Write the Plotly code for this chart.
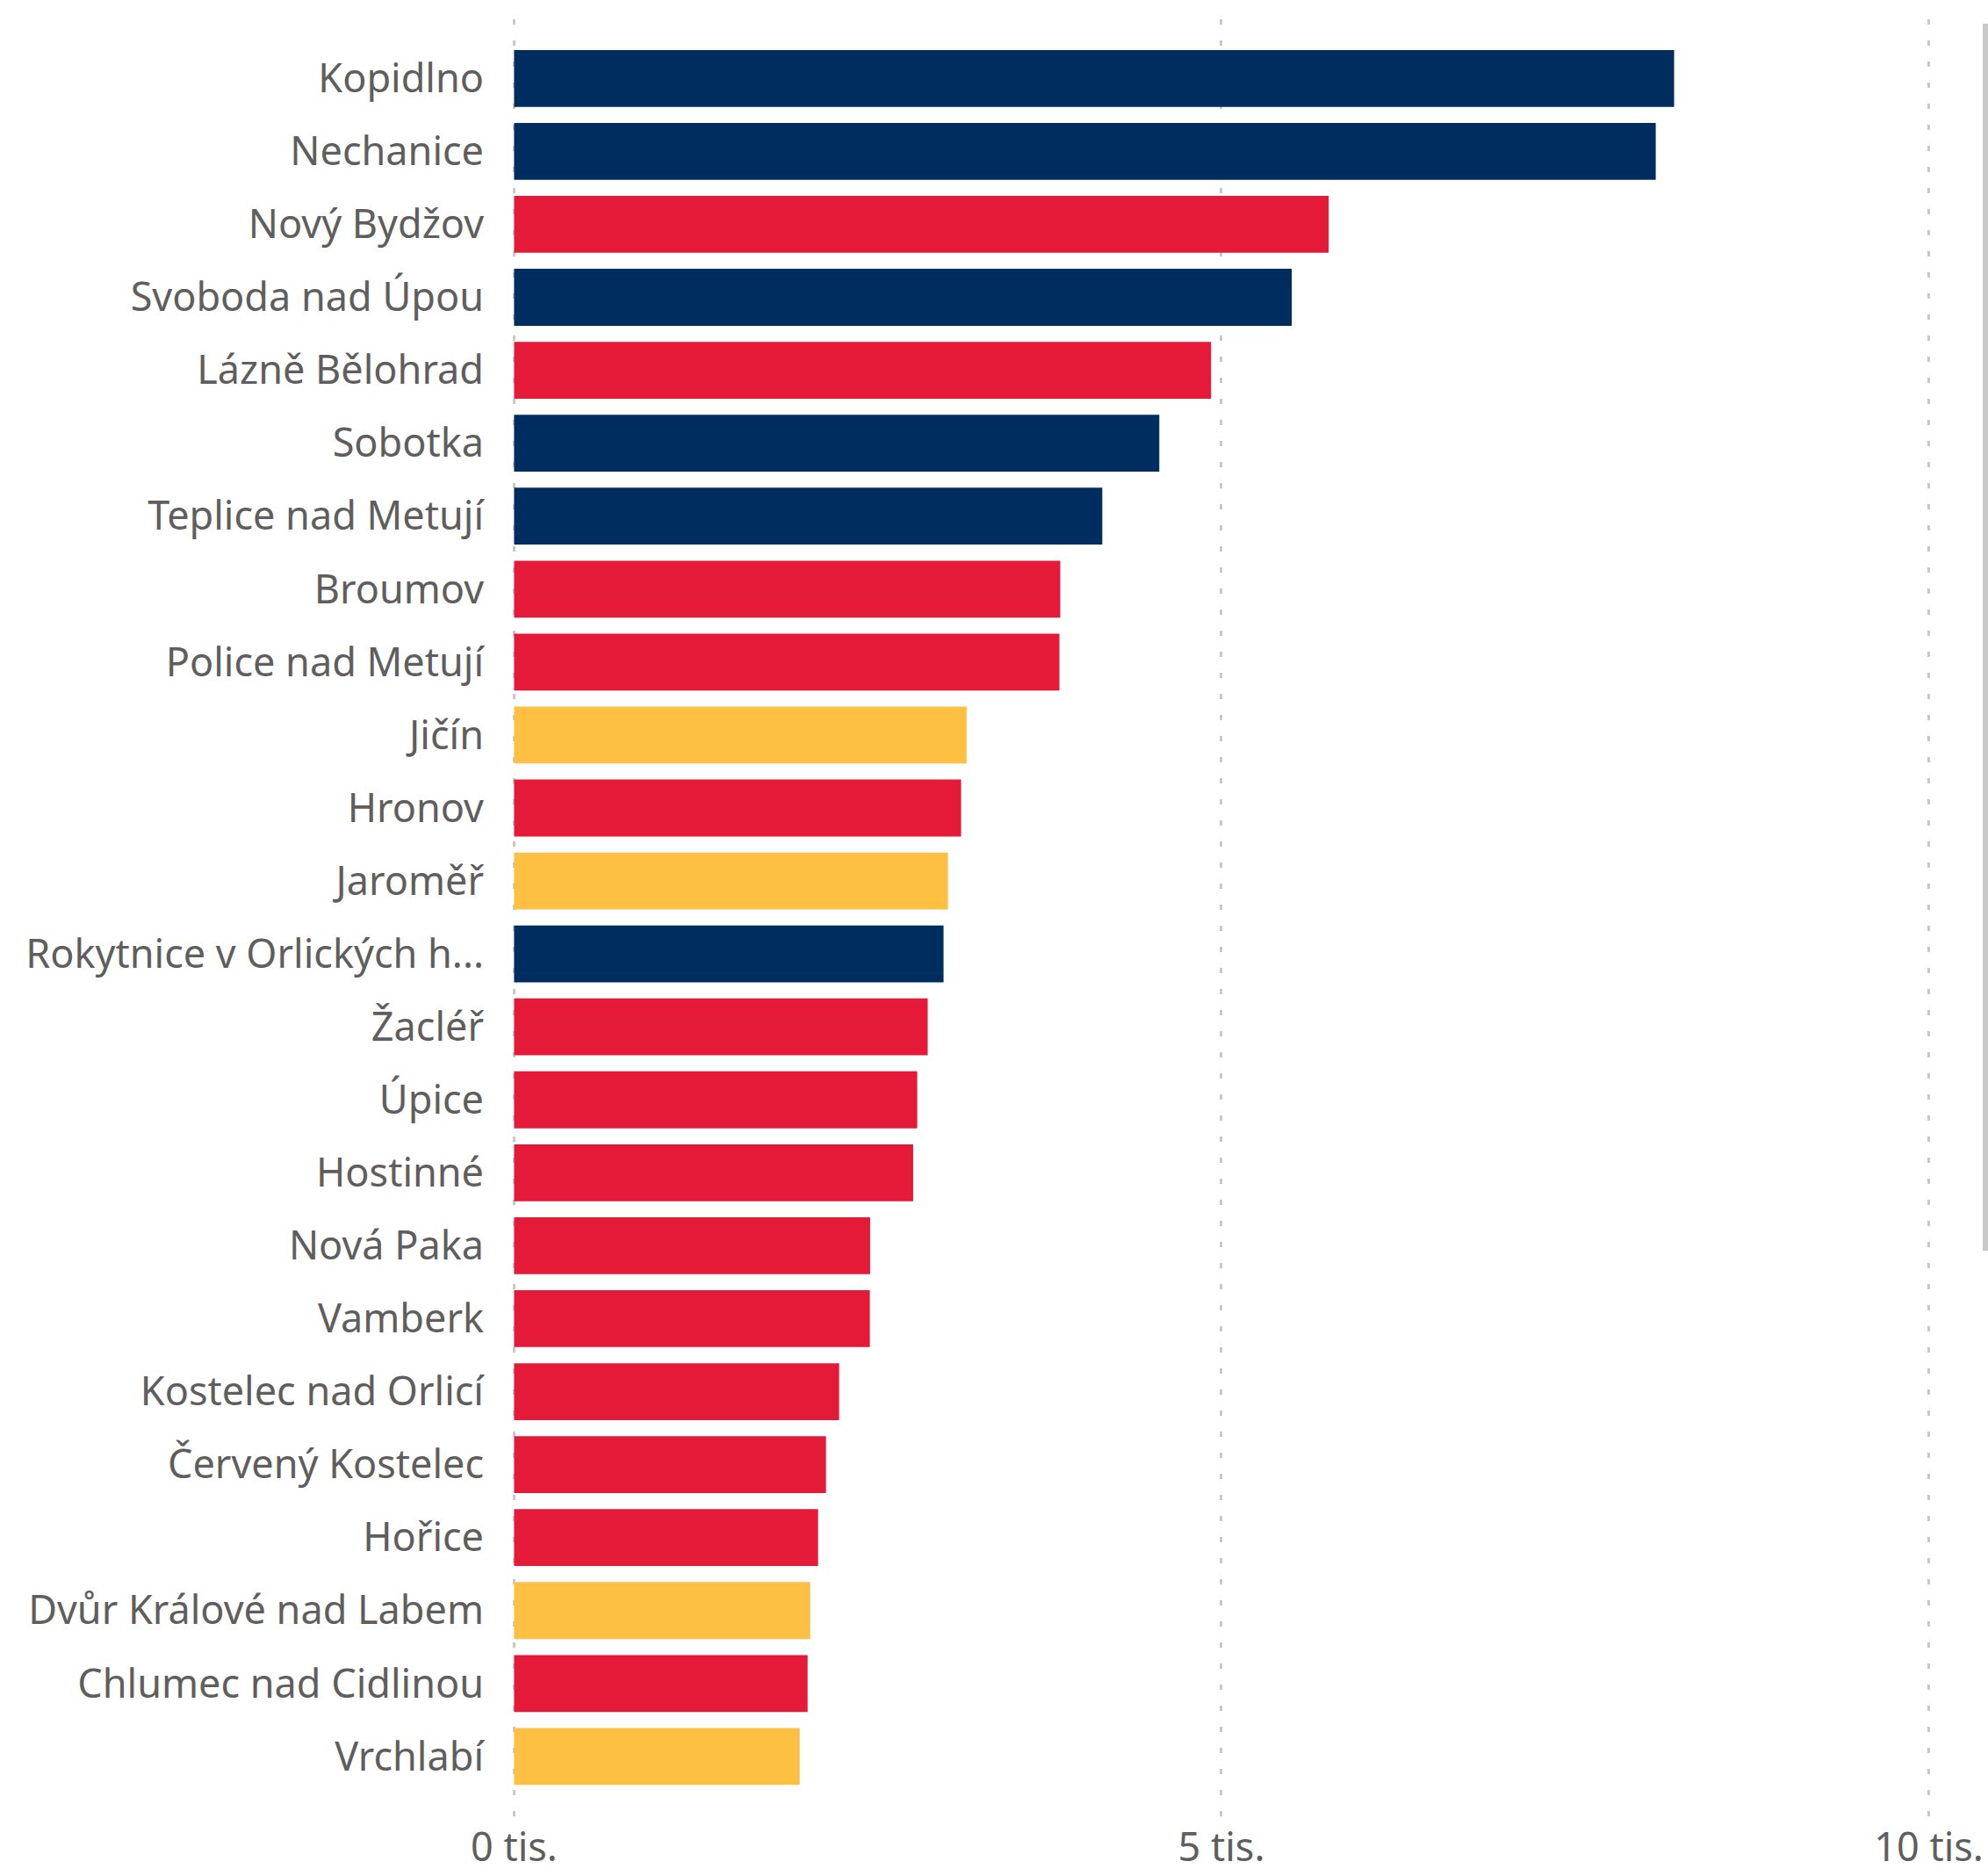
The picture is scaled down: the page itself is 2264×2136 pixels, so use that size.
import plotly.graph_objects as go

cities = [
    "Kopidlno", "Nechanice", "Nový Bydžov", "Svoboda nad Úpou", "Lázně Bělohrad",
    "Sobotka", "Teplice nad Metují", "Broumov", "Police nad Metují", "Jičín",
    "Hronov", "Jaroměř", "Rokytnice v Orlických h...", "Žacléř", "Úpice",
    "Hostinné", "Nová Paka", "Vamberk", "Kostelec nad Orlicí", "Červený Kostelec",
    "Hořice", "Dvůr Králové nad Labem", "Chlumec nad Cidlinou", "Vrchlabí",
]
values = [
    8200, 8070, 5758, 5497, 4927,
    4561, 4158, 3861, 3855, 3199,
    3160, 3067, 3036, 2924, 2850,
    2821, 2517, 2515, 2298, 2205,
    2149, 2094, 2075, 2019,
]
groups = [
    "navy", "navy", "red", "navy", "red",
    "navy", "navy", "red", "red", "yellow",
    "red", "yellow", "navy", "red", "red",
    "red", "red", "red", "red", "red",
    "red", "yellow", "red", "yellow",
]
palette = {"navy": "#002D5F", "red": "#E41A38", "yellow": "#FDC043"}
x_tickvals = [0, 5000, 10000]
x_ticktext = ["0 tis.", "5 tis.", "10 tis."]

W, H = 2264, 2136
L, T = 583, 22
PW = 1620
PB = 2068

fig = go.Figure(
    go.Bar(
        x=values,
        y=cities,
        orientation="h",
        marker=dict(color=[palette[g] for g in groups], line=dict(width=0)),
        hoverinfo="x+y",
    )
)

font_family = "Noto Sans, Open Sans, sans-serif"
label_color = "#605E5C"

fig.update_layout(
    template="none",
    width=W,
    height=H,
    margin=dict(l=L, r=W - L - PW, t=T, b=H - PB, pad=0, autoexpand=False),
    paper_bgcolor="white",
    plot_bgcolor="white",
    bargap=0.22,
    showlegend=False,
    font=dict(family=font_family, color=label_color),
    xaxis=dict(
        automargin=False,
        range=[-15, 10040],
        tickvals=x_tickvals,
        ticktext=x_ticktext,
        showgrid=True,
        gridcolor="#C8C8C8",
        gridwidth=3,
        griddash="6px,18px",
        zeroline=False,
        showline=False,
        ticks="",
        tickfont=dict(size=45, color=label_color, family=font_family),
        ticklabelstandoff=5,
        fixedrange=True,
    ),
    yaxis=dict(
        automargin=False,
        categoryorder="array",
        categoryarray=cities,
        range=[23.82, -0.81],
        showgrid=False,
        zeroline=False,
        showline=False,
        ticks="",
        tickfont=dict(size=45, color=label_color, family=font_family),
        ticklabelstandoff=31,
        fixedrange=True,
    ),
    shapes=[
        dict(
            type="rect",
            xref="paper",
            yref="paper",
            x0=(2258 - L) / PW,
            x1=(2264 - L) / PW,
            y0=(PB - 1424) / (PB - T),
            y1=(PB - 27) / (PB - T),
            fillcolor="#C8C8C8",
            line=dict(width=0),
            layer="above",
        )
    ],
)

fig.write_html(
    "out.html",
    config={"displayModeBar": False},
    post_script="document.body.style.margin='0';document.body.style.overflow='hidden';",
)
